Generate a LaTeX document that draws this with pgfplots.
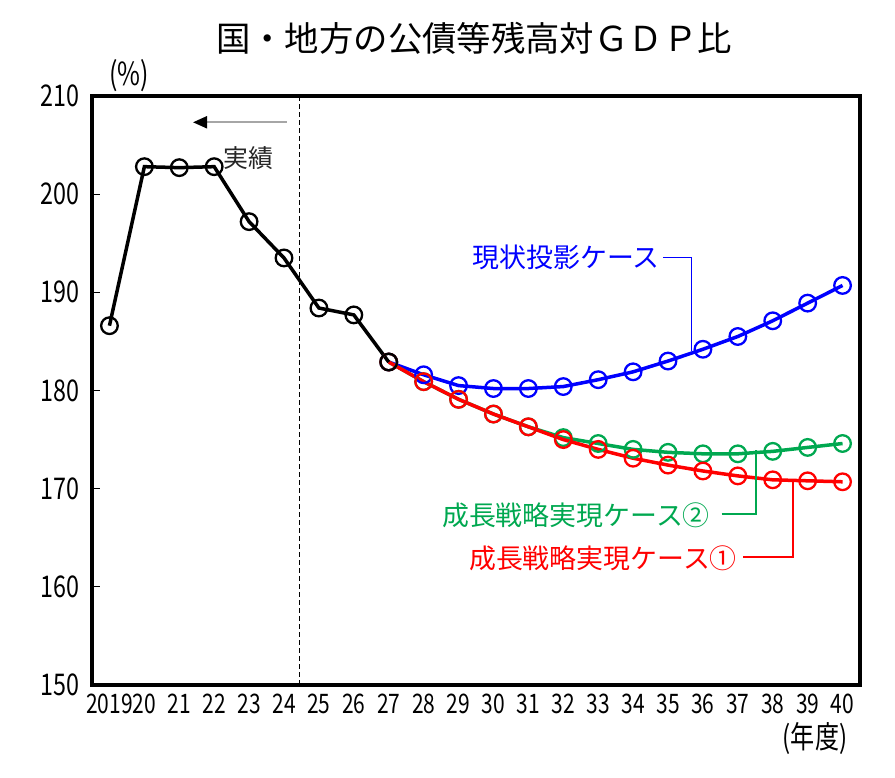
\documentclass[border=0pt]{standalone}
\usepackage{fontspec}
\setmainfont{Noto Sans CJK JP}
\newfontfamily\tickfont{Noto Sans CJK JP}[FakeStretch=0.78]
\usepackage{pgfplots}
\pgfplotsset{compat=1.18}
\usetikzlibrary{arrows.meta}
\definecolor{cgreen}{RGB}{0,168,80}
\definecolor{cblue}{RGB}{0,0,255}
\definecolor{cred}{RGB}{255,0,0}
\begin{document}
\begin{tikzpicture}[x=1bp,y=1bp]
\useasboundingbox (0,0) rectangle (895,778);
\begin{axis}[
  at={(92bp,93bp)}, anchor=south west,
  scale only axis, width=768bp, height=589bp,
  xmin=2018.5, xmax=2040.5, ymin=150, ymax=210,
  axis line style={line width=3.5bp},
  xtick={2019,2020,2021,2022,2023,2024,2025,2026,2027,2028,2029,2030,2031,2032,2033,2034,2035,2036,2037,2038,2039,2040},
  xticklabels={2019,20,21,22,23,24,25,26,27,28,29,30,31,32,33,34,35,36,37,38,39,40},
  ytick={150,160,170,180,190,200,210},
  yticklabels={150,160,170,180,190,200,210},
  xtick style={draw=none},
  ytick pos=left, tick align=inside,
  major tick length=8bp,
  ytick style={line width=1bp,black},
  xticklabel style={font=\tickfont\fontsize{27}{27}\selectfont, anchor=north, yshift=-9bp, inner sep=0pt},
  yticklabel style={font=\tickfont\fontsize{30}{30}\selectfont, anchor=east, xshift=-12bp, inner sep=0pt},
  clip=false,
]
\draw[black, line width=1bp, dash pattern=on 5bp off 3bp] (axis cs:2024.45,150) -- (axis cs:2024.45,210);
\addplot[cblue, line width=3.5bp, mark=o, mark size=8.3bp, mark options={line width=2.3bp, fill=white, draw=cblue}] coordinates {
(2027,182.9) (2028,181.6) (2029,180.5) (2030,180.2) (2031,180.2) (2032,180.4) (2033,181.1) (2034,181.9) (2035,183.0) (2036,184.2) (2037,185.5) (2038,187.1) (2039,188.9) (2040,190.7)};
\addplot[cgreen, line width=3.5bp, mark=o, mark size=8.3bp, mark options={line width=2.3bp, fill=white, draw=cgreen}] coordinates {
(2027,182.9) (2028,180.9) (2029,179.1) (2030,177.6) (2031,176.3) (2032,175.2) (2033,174.6) (2034,174.0) (2035,173.7) (2036,173.55) (2037,173.55) (2038,173.8) (2039,174.2) (2040,174.6)};
\addplot[cred, line width=3.5bp, mark=o, mark size=8.3bp, mark options={line width=2.3bp, fill=white, draw=cred}] coordinates {
(2027,182.9) (2028,180.9) (2029,179.1) (2030,177.6) (2031,176.3) (2032,175.0) (2033,174.0) (2034,173.1) (2035,172.4) (2036,171.8) (2037,171.3) (2038,170.9) (2039,170.8) (2040,170.7)};
\addplot[black, line width=3.5bp, mark=o, mark size=8.3bp, mark options={line width=2.3bp, fill=white, draw=black}] coordinates {
(2019,186.6) (2020,202.8) (2021,202.7) (2022,202.8) (2023,197.2) (2024,193.5) (2025,188.4) (2026,187.7) (2027,182.9)};
\end{axis}
% title and unit labels
\node[font=\fontsize{34.5}{36}\selectfont] at (474,740) {国・地方の公債等残高対ＧＤＰ比};
\node[font=\tickfont\fontsize{32}{32}\selectfont] at (129,702) {(\%)};
\node[font=\tickfont\fontsize{31}{32}\selectfont] at (815,40) {(年度)};
% arrow and 実績
\draw[gray!70, line width=2bp, -{Triangle[length=14bp,width=12bp,black]}] (286.7,655.7) -- (193,655.7);
\node[font=\fontsize{25}{26}\selectfont, anchor=west, inner sep=0pt, text=black!85] at (223,620) {実績};
% series labels with leaders
\node[font=\fontsize{27}{28}\selectfont, anchor=east, inner sep=0pt, text=cblue] at (660,521) {現状投影ケース};
\draw[cblue, line width=1.3bp] (663,520.3) -- (691.7,520.3) -- (691.7,427.3);
\node[font=\fontsize{27}{28}\selectfont, anchor=east, inner sep=0pt, text=cgreen] at (710,263) {成長戦略実現ケース②};
\draw[cgreen, line width=1.3bp] (721.7,264) -- (756,264) -- (756,328);
\node[font=\fontsize{27}{28}\selectfont, anchor=east, inner sep=0pt, text=cred] at (737,220) {成長戦略実現ケース①};
\draw[cred, line width=1.3bp] (743,221) -- (793,221) -- (793,298.7);
\end{tikzpicture}
\end{document}
